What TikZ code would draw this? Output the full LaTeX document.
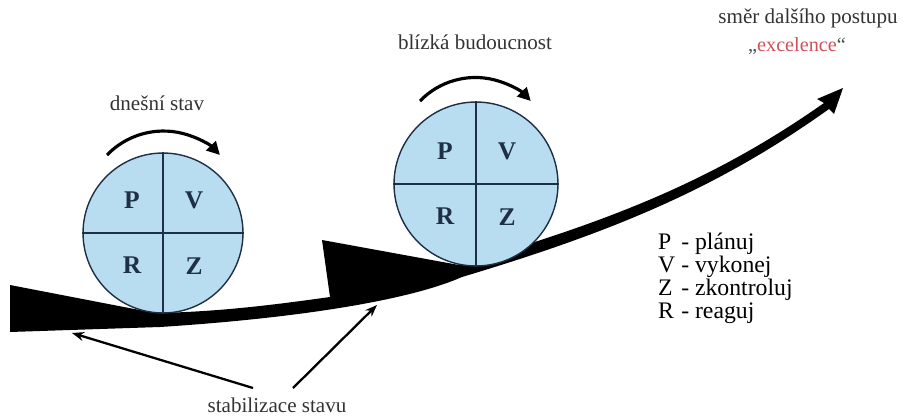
\documentclass[tikz,border=0pt]{standalone}
\usepackage{fontspec}
\setmainfont{LiberationSerif}[Extension=.ttf,UprightFont=*-Regular,BoldFont=*-Bold,ItalicFont=*-Italic,BoldItalicFont=*-BoldItalic]
\usetikzlibrary{arrows.meta,positioning}
\definecolor{discc}{HTML}{B9DDF0}
\definecolor{linec}{HTML}{1F2F45}
\definecolor{redc}{HTML}{D0505A}
\tikzset{
  disc/.style={circle,draw=linec,fill=discc,inner sep=0pt,line width=0.8pt},
  ltr/.style={font=\fontsize{14.5}{15}\selectfont\bfseries,text=linec},
  lab/.style={font=\fontsize{12}{13}\selectfont,text=black!80},
  turn/.style={-{Triangle[length=2.6mm,width=2.6mm]},line width=1.8pt},
  pt/.style={-{Stealth[length=2.4mm,width=1.8mm]},line width=1.3pt}
}

\begin{document}
\begin{tikzpicture}[x=0.02cm,y=-0.02cm]
\useasboundingbox (0,0) rectangle (907,419);
% band with the two wedges and the arrow
\fill (10,285) -- (155,313) .. controls (220,312) and (280,304) .. (330,297) -- (322,240)
  -- (459,265) .. controls (608,222) and (713,181) .. (824,103) -- (817,99) -- (843,88)
  -- (834,114) -- (829,109) .. controls (717,189) and (612,232) .. (462,277)
  .. controls (410,300) and (300,318) .. (160,327) -- (10,332) -- cycle;
% the two discs
\node[disc,minimum size=3.2cm] (c1) at (163,233) {};
\node[disc,minimum size=3.28cm] (c2) at (476,184) {};
\foreach \c in {c1,c2}{
  \draw[linec,line width=0.8pt] (\c.north) -- (\c.south) (\c.west) -- (\c.east);
  \node[ltr] (\c-p) at ([shift={(-31,-33)}]\c) {P};
  \node[ltr] (\c-v) at ([shift={(31,-33)}]\c) {V};
  \node[ltr] (\c-r) at ([shift={(-31,32)}]\c) {R};
  \node[ltr] (\c-z) at ([shift={(31,33)}]\c) {Z};
}
\draw[turn] ([shift={(-56,-78)}]c1) arc[start angle=-136,end angle=-44,radius=78.5];
\draw[turn] ([shift={(-56,-83)}]c2) arc[start angle=-136,end angle=-44,radius=77];
% labels
\node[lab] (now) at (157,103) {dnešní stav};
\node[lab] (next) at (475,42) {blízká budoucnost};
\node[lab] (dir) at (808,18) {směr dalšího postupu};
\node[font=\fontsize{11.5}{12}\selectfont,text=black!70] (exc) at (797,46) {„\textcolor{redc}{excelence}“};
\node[font=\fontsize{13.5}{13}\selectfont,anchor=west] (key) at (652,279) {\begin{tabular}{@{}l@{\ }l@{}}P & - plánuj\\ V & - vykonej\\ Z & - zkontroluj\\ R & - reaguj\end{tabular}};
\node[lab] (stab) at (277,405) {stabilizace stavu};
\coordinate (t1) at (72,333);
\coordinate (t2) at (377,305);
\draw[pt] ([shift={(-24,-17)}]stab.center) -- (t1);
\draw[pt] ([shift={(16,-17)}]stab.center) -- (t2);
\end{tikzpicture}
\end{document}
